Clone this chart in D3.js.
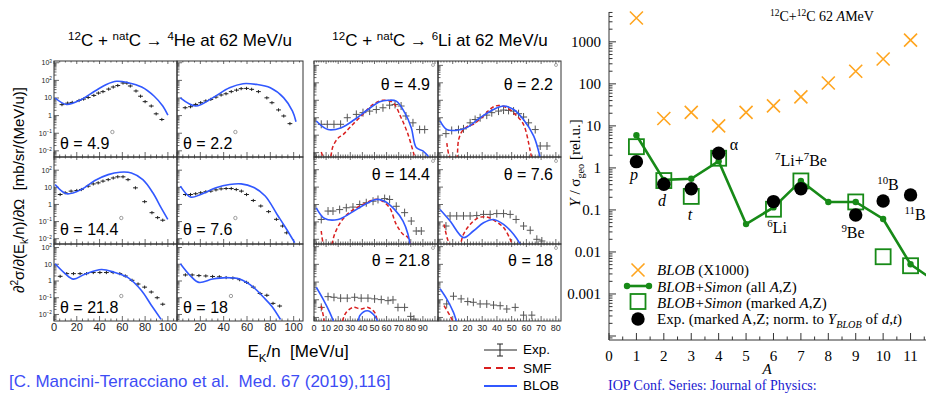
<!DOCTYPE html>
<html><head><meta charset="utf-8">
<script src="https://cdn.jsdelivr.net/npm/d3@7"></script>
<style>body{margin:0;background:#fff}svg{display:block}</style>
</head><body><svg id="c" width="926" height="394"></svg>
<script>
// ---------------- DATA: 4He panels  [E_k/n (MeV/u), d2sigma value] ----------------
const he49Blue = [[1,10],[11,4.3],[24,8.3],[36,25],[46,59],[55,89],[65,74],[77,42],[88,12.6],[95.5,3.5],[100,1.07]];
const he49Exp  = [[7,4.2],[12,5.1],[16,5.6],[22,7.2],[26,8.7],[30,10.7],[35,14],[39,19],[43,23],[48,32],[52,42],[56,51],[60.6,71],[64,70],[67,48],[72,25],[76,12.6],[80,6.2],[85.4,3.5],[89.7,1.26],[94.7,0.6]];
const he22Blue = [[2.9,10],[16,3.5],[30.5,10.2],[45,38],[56.6,65],[68,59],[80,38],[91.5,10.2],[99,1.8],[102,0.45]];
const he22Exp  = [[7,2.8],[11.6,3.2],[16,4.3],[20.3,5.4],[24.7,6.8],[29,8.3],[33.4,11.2],[37.8,14.8],[42,17.4],[46.5,23],[51,28],[55,34],[59.6,35],[64,31],[69.8,23],[77,10.2],[81.4,5.4],[87,2.1],[91.5,0.95],[96.8,0.35]];
const he144Blue = [[1,14.5],[11,4.2],[24,7.4],[35.9,25],[47.6,55],[57.8,76],[68,69],[78,28],[86.8,4.8],[94,0.65],[99.9,0.135]];
const he144Exp  = [[5.4,3.8],[9.8,4.8],[15,6],[20,6.5],[24,7.4],[30,11.7],[34.5,15.8],[38.8,18.2],[43,23],[47.6,28],[52,35],[56,41],[60.6,41],[65,28],[71.5,9.3],[79.6,1.45],[86,0.33],[91,0.17],[95.5,0.12]];
const he76Blue = [[2.9,11.7],[11.6,2.7],[20.3,3.8],[33.4,9.3],[45,14.5],[55,15.8],[65.4,10.2],[75.6,3.1],[85.8,0.26],[93,0.045],[100.9,0.0058]];
const he76Exp  = [[7.2,3.8],[11.6,3.8],[16,4.2],[20.3,4.8],[24.7,5.5],[29,6],[33.4,7.1],[37.8,8.1],[42.1,8.5],[46.5,8.5],[50.8,7.4],[55.2,6],[59.6,3.8],[65.4,1.7],[71.8,0.81],[78.5,0.38],[85.2,0.135],[90.5,0.055],[94,0.022]];
const he218Blue = [[1,10.7],[9.8,2.75],[17,1.3],[27,2.5],[41.7,4.9],[53.4,3.2],[65,1.6],[76.6,0.28],[85.3,0.037],[94,0.0051]];
const he218Exp  = [[5.4,1.9],[11.2,2.75],[17.1,2.75],[22.9,2.75],[28.6,2.75],[34.5,3.2],[40.3,3.2],[46,3.2],[51.9,3.2],[57.8,2.75],[62.6,2],[68.5,1.1],[73.8,0.66],[79.6,0.43],[85.4,0.22],[90.6,0.1],[95.5,0.041]];
const he18Blue = [[2.9,10.7],[11.6,2],[18.8,0.83],[30.5,1.3],[42,1.6],[53.7,1.3],[65.4,0.43],[74,0.11],[81.4,0.03],[88.7,0.005]];
const he18Exp  = [[7.2,2.3],[13,2.3],[18.8,2.1],[24.7,2],[30.5,1.86],[36.3,1.78],[42.1,1.6],[47.9,1.5],[53.7,1.2],[59.6,0.83],[65.4,0.43],[71.2,0.18],[77,0.14],[82.3,0.046],[88,0.032]];

// ---------------- DATA: 6Li panels  [E_k/n, value (arb. units)] ----------------
const li49Blue = [[1.9,65],[11.6,21],[22.6,27],[33.6,79],[44.6,295],[54.3,813],[61.2,1000],[68,891],[75,195],[80.4,27],[84.5,1.95],[90,1.26],[94.8,0.56]];
const li49Smf  = [[6,1.1],[9.5,0.32],[12.5,0.32],[15.7,2.3],[20,6.9],[24,10.7],[30.8,34],[39,126],[48.8,575],[57,1000],[65.3,724],[72,100],[77.7,11.2],[83,0.63]];
const li49Exp  = [[6,42],[11,42],[16.5,42],[22,42],[27.5,100],[35,155],[40.5,195],[46,240],[51.5,295],[57,372],[62.5,525],[67,575],[72,468],[76,126],[81.8,51],[87.3,21],[91.5,21]];
const li22Blue = [[1.4,65],[5.9,21],[12.7,19],[19.5,27],[28.6,100],[37.7,295],[44.5,468],[51.3,295],[58,79],[65,8.9],[69.4,0.5]];
const li22Smf  = [[6,3.5],[9,0.32],[12,0.32],[14,5.5],[16.3,16.6],[20,32],[24,42],[30.9,126],[36.5,372],[41,500],[46.7,372],[52.4,155],[58,42],[62.6,1.26],[64,0.32]];
const li22Exp  = [[5.4,12.3],[9.3,18.6],[13.9,21],[17.3,23],[21.8,51],[25.2,79],[28.6,100],[33.1,141],[36.5,195],[41.1,240],[44.5,275],[47.9,263],[51.3,240],[54.7,170],[58.1,110],[61.5,51],[66,21],[69.4,2.4],[74,2.4]];
const li144Blue = [[1.9,65],[8.8,15.8],[19.8,13.8],[30.8,34],[41.9,100],[51.5,195],[58.4,155],[66.7,51],[73.6,11.2],[77.7,1.95],[80,0.25]];
const li144Smf  = [[6,3],[9,0.32],[12,0.32],[14.5,0.5],[17,1.95],[22.6,11.2],[30.8,42],[40.5,100],[50.1,195],[55.6,170],[62.5,65],[68,7.2],[73.6,1.95],[77.7,1.26],[80,0.32]];
const li144Exp  = [[6,13.8],[11.6,42],[15.7,42],[21.2,51],[26.7,65],[32.2,71],[37.8,100],[43.2,126],[48.8,155],[52.9,195],[58.4,219],[62.5,195],[68,79],[74.9,34],[80.4,11.2],[84.5,3],[88.7,3]];
const li76Blue = [[1.4,51],[8.2,11.2],[17.3,1.26],[24,3],[30.9,8.9],[37.7,13.8],[44.5,7.2],[51.3,1.95],[56,0.5],[58,0.25]];
const li76Smf  = [[4.1,7.2],[6.5,1],[9,0.32],[13.8,0.32],[17.3,1.95],[21.8,7.2],[27.5,17.4],[33.1,19],[38.8,11.2],[44.5,4.7],[49,1],[51,0.32]];
const li76Exp  = [[5.4,5.8],[8.2,22],[12.7,22],[17.3,22],[21.8,22],[26.3,23],[30.9,27],[35.4,27],[39.9,30],[44.5,30],[49,27],[53,13.8],[58.1,5.8],[62.6,3.3],[67.1,1],[70.5,0.8]];
const li218Blue = [[1.9,51],[7.4,11.2],[13,1.95],[16,0.63],[18,0.25],[35,0.25],[37.8,1.26],[44,2.4],[50.1,1.26],[53,0.5],[55,0.25]];
const li218Smf  = [[6,4.6],[8,1],[10,0.25],[22,0.25],[24,0.8],[26.7,1.95],[32.2,3.7],[39,3],[44.6,3.7],[50.1,1.95],[52,0.8],[54,0.25]];
const li218Exp  = [[6,3.7],[11.6,15],[16.5,13.8],[22,12.3],[27.5,12.3],[33.6,13.8],[39,12.3],[44.6,12.3],[50.1,11.2],[55.6,10.2],[61.2,8.9],[65.3,9.8],[69.4,3.7],[74.9,3.7],[79.9,1.15],[82.6,0.8]];
const li18Blue = [[1.4,42],[5.9,11.2],[10.5,1.95],[13,0.5],[15,0.25]];
const li18Smf  = [[4.1,4.6],[8.2,1.26],[12,0.32],[14,0.25]];
const li18Exp  = [[5.9,5.8],[10.5,15.8],[15.7,11.2],[20.2,7.9],[24,7.2],[28.6,5.8],[33.1,5.8],[37.7,5],[42.2,4.6],[46.7,3],[52.4,3.7],[58.1,1.35],[63.7,1.35]];

// ---------------- DATA: right chart (Y / sigma_geo vs A) ----------------
const massA       = [1,2,3,4,5,6,7,8,9,10,11];
const blobX1000   = [3700,15,21,10,21,30,49,105,200,390,1100];
const simonAllA   = [1,2,3,4,5,6,7,8,9,10,11,12];
const simonAll    = [6,0.52,0.55,1.45,0.046,0.115,0.49,0.155,0.155,0.061,0.0051,0.0018];
const markedA     = [1,2,3,4,6,7,9,10,11];
const simonMarked = [3.2,0.5,0.21,1.7,0.104,0.49,0.155,0.0077,0.0047];
const expMarked   = [1.41,0.41,0.32,2.24,0.158,0.32,0.076,0.163,0.228];
const yTickVals   = [1000,100,10,1,0.1,0.01,0.001];
const yTickLabels = ["1000","100","10","1","0.1","0.01","0.001"];
const xTickVals   = [0,1,2,3,4,5,6,7,8,9,10,11];

const heTheta = ["4.9","2.2","14.4","7.6","21.8","18"];
const liTheta = ["4.9","2.2","14.4","7.6","21.8","18"];
const heXLabels = [[0,20,40,60,80,100],[20,40,60,80,100]];
const liXLabels = [[0,10,20,30,40,50,60,70,80,90],[10,20,30,40,50,60,70,80]];

// ---------------- DRAWING ----------------
const svg = d3.select("#c");
const SANS = "'Liberation Sans', Arial, Helvetica, sans-serif";
const SERIF = "'Liberation Serif', 'Times New Roman', serif";
const BLUE = "#3158ff", RED = "#d91f1f";
let clipN = 0;

function rich(t, parts, fs){
  let shift = 0;
  parts.forEach(p=>{
    const s = t.append("tspan").text(p.t);
    const target = p.sup ? -0.38*fs : (p.sub ? 0.28*fs : 0);
    if (target !== shift){ s.attr("dy", target - shift); shift = target; }
    if (p.sup || p.sub) s.attr("font-size", fs*0.68);
    if (p.i) s.attr("font-style","italic");
  });
  return t;
}

const rowsPx = [[61,157],[157,244],[244,321]];
const heColsPx = [[54,177],[177,303]];
const heYDom = [[-2.35,3.1],[-2.31,2.77],[-2.39,2.21]];
const liColsPx = [[314,438],[438,561]];
const liXDom = [[0,102.5],[0,83.5]];
const liYDom = [[-0.25,5.25],[-0.27,4.73],[-0.2,4.15]];

function panel(cx, ry, xDom, yExp, opts){
  const [x0,x1] = cx, [y0,y1] = ry;
  const xs = d3.scaleLinear().domain(xDom).range([x0,x1]);
  const ys = d3.scaleLog().domain([10**yExp[0], 10**yExp[1]]).range([y1,y0]);
  const id = "clp"+(clipN++);
  svg.append("clipPath").attr("id",id).append("rect")
    .attr("x",x0).attr("y",y0).attr("width",x1-x0).attr("height",y1-y0);
  const g = svg.append("g");
  const tk = g.append("g").attr("stroke","#444").attr("stroke-width",0.8);
  for (let e=Math.floor(yExp[0]); e<=Math.ceil(yExp[1]); e++){
    for (let m=1; m<10; m++){
      const v = m*10**e;
      if (v < 10**yExp[0] || v > 10**yExp[1]) continue;
      const L = m===1 ? 5 : 2.5;
      tk.append("line").attr("x1",x0).attr("x2",x0+L).attr("y1",ys(v)).attr("y2",ys(v));
    }
  }
  for (let v=xDom[0]; v<=xDom[1]; v+=opts.minor){
    const major = Math.abs(v/opts.major - Math.round(v/opts.major))<1e-6;
    const L = major ? 5 : 2.5;
    tk.append("line").attr("x1",xs(v)).attr("x2",xs(v)).attr("y1",y1).attr("y2",y1-L);
    tk.append("line").attr("x1",xs(v)).attr("x2",xs(v)).attr("y1",y0).attr("y2",y0+L*0.6);
  }
  g.append("rect").attr("x",x0).attr("y",y0).attr("width",x1-x0).attr("height",y1-y0)
    .attr("fill","none").attr("stroke","#333").attr("stroke-width",1);
  const cg = g.append("g").attr("clip-path",`url(#${id})`);
  const line = d3.line().x(d=>xs(d[0])).y(d=>ys(d[1])).curve(d3.curveCatmullRom.alpha(0.5));
  const eg = cg.append("g").attr("stroke", opts.expColor).attr("stroke-width",1);
  opts.exp.forEach(d=>{
    const X = xs(d[0]), Y = ys(d[1]);
    eg.append("line").attr("x1",X-opts.hw).attr("x2",X+opts.hw).attr("y1",Y).attr("y2",Y);
    eg.append("line").attr("x1",X).attr("x2",X).attr("y1",Y-opts.vh).attr("y2",Y+opts.vh);
  });
  if (opts.smf) cg.append("path").datum(opts.smf).attr("d",line).attr("fill","none")
      .attr("stroke",RED).attr("stroke-width",1.5).attr("stroke-dasharray","4,2.5");
  cg.append("path").datum(opts.blue).attr("d",line).attr("fill","none")
    .attr("stroke",BLUE).attr("stroke-width",1.6);
  return {xs, ys, g};
}

// ----- He block -----
const hePanels = [[he49Blue,he49Exp],[he22Blue,he22Exp],[he144Blue,he144Exp],[he76Blue,he76Exp],[he218Blue,he218Exp],[he18Blue,he18Exp]];
const heBase = [149,235,313];
hePanels.forEach((p,i)=>{
  const r = Math.floor(i/2), c = i%2;
  const P = panel(heColsPx[c], rowsPx[r], [0,108], heYDom[r], {blue:p[0], exp:p[1], major:20, minor:5, hw:2.4, vh:1.6, expColor:"#222"});
  const tx = svg.append("text").attr("x", heColsPx[c][0]+6).attr("y", heBase[r])
    .attr("font-family",SANS).attr("font-size",16).attr("fill","#000").text("θ = "+heTheta[i]);
  const w = tx.node().getComputedTextLength();
  svg.append("circle").attr("cx", heColsPx[c][0]+6+w+3).attr("cy", heBase[r]-17).attr("r",1.7)
    .attr("fill","none").attr("stroke","#777").attr("stroke-width",0.7);
  if (c===0){
    for (let e=Math.ceil(heYDom[r][0]); e<=Math.floor(heYDom[r][1]); e++){
      const t = svg.append("text").attr("x",52).attr("y",P.ys(10**e)+2.5).attr("text-anchor","end")
        .attr("font-family",SANS).attr("font-size",7).attr("fill","#222");
      if (e===0) t.text("1"); else if (e===1) t.text("10");
      else rich(t,[{t:"10"},{t:String(e).replace("-","−"),sup:true}],7);
    }
  }
  if (r===2){
    heXLabels[c].forEach(v=>{
      svg.append("text").attr("x",P.xs(v)).attr("y",331).attr("text-anchor","middle")
        .attr("font-family",SANS).attr("font-size",11).attr("fill","#222").text(v);
    });
  }
});

// ----- Li block -----
const liPanels = [[li49Blue,li49Smf,li49Exp],[li22Blue,li22Smf,li22Exp],[li144Blue,li144Smf,li144Exp],[li76Blue,li76Smf,li76Exp],[li218Blue,li218Smf,li218Exp],[li18Blue,li18Smf,li18Exp]];
const liBase = [90,180,266];
liPanels.forEach((p,i)=>{
  const r = Math.floor(i/2), c = i%2;
  const P = panel(liColsPx[c], rowsPx[r], liXDom[c], liYDom[r], {blue:p[0], smf:p[1], exp:p[2], major:10, minor:2, hw:3.5, vh:4, expColor:"#555"});
  svg.append("text").attr("x", liColsPx[c][1]-8).attr("y", liBase[r]).attr("text-anchor","end")
    .attr("font-family",SANS).attr("font-size",16).attr("fill","#000").text("θ = "+liTheta[i]);
  svg.append("circle").attr("cx", liColsPx[c][1]-5).attr("cy", rowsPx[r][0]+4).attr("r",1.5)
    .attr("fill","none").attr("stroke","#888").attr("stroke-width",0.7);
  if (r===2){
    liXLabels[c].forEach(v=>{
      svg.append("text").attr("x",P.xs(v)).attr("y",331).attr("text-anchor","middle")
        .attr("font-family",SANS).attr("font-size",9).attr("fill","#222").text(v);
    });
  }
});

// titles
rich(svg.append("text").attr("x",180).attr("y",46).attr("text-anchor","middle")
  .attr("font-family",SANS).attr("font-size",17),
  [{t:"12",sup:true},{t:"C + "},{t:"nat",sup:true},{t:"C → "},{t:"4",sup:true},{t:"He at 62 MeV/u"}],17);
rich(svg.append("text").attr("x",440).attr("y",46).attr("text-anchor","middle")
  .attr("font-family",SANS).attr("font-size",17),
  [{t:"12",sup:true},{t:"C + "},{t:"nat",sup:true},{t:"C → "},{t:"6",sup:true},{t:"Li at 62 MeV/u"}],17);

// y label left
rich(svg.append("text").attr("transform","translate(24,190) rotate(-90)").attr("text-anchor","middle")
  .attr("font-family",SANS).attr("font-size",15),
  [{t:"∂"},{t:"2",sup:true},{t:"σ/∂(E"},{t:"k",sub:true},{t:"/n)/∂Ω\u00a0 [mb/sr/(MeV/u)]"}],15);
// x label
rich(svg.append("text").attr("x",298).attr("y",357).attr("text-anchor","middle")
  .attr("font-family",SANS).attr("font-size",17),
  [{t:"E"},{t:"K",sub:true},{t:"/n\u00a0 [MeV/u]"}],17);
// citation
svg.append("text").attr("x",9).attr("y",387).attr("font-family",SANS).attr("font-size",17)
  .attr("fill","#3d4cf5").text("[C. Mancini-Terracciano et al.\u00a0 Med. 67 (2019),116]");

// legend middle
const lg = svg.append("g");
lg.append("line").attr("x1",484).attr("x2",517).attr("y1",350).attr("y2",350).attr("stroke","#222").attr("stroke-width",1);
lg.append("line").attr("x1",500).attr("x2",500).attr("y1",344).attr("y2",356).attr("stroke","#222");
lg.append("line").attr("x1",497).attr("x2",503).attr("y1",344).attr("y2",344).attr("stroke","#222");
lg.append("line").attr("x1",497).attr("x2",503).attr("y1",356).attr("y2",356).attr("stroke","#222");
lg.append("line").attr("x1",484).attr("x2",517).attr("y1",368).attr("y2",368).attr("stroke",RED).attr("stroke-width",2).attr("stroke-dasharray","7,5");
lg.append("line").attr("x1",484).attr("x2",517).attr("y1",386).attr("y2",386).attr("stroke",BLUE).attr("stroke-width",2);
[["Exp.",354],["SMF",373],["BLOB",390]].forEach(d=>{
  lg.append("text").attr("x",523).attr("y",d[1]).attr("font-family",SANS).attr("font-size",13.5).text(d[0]);
});

// ---------------- RIGHT CHART ----------------
const xR = d3.scaleLinear().domain([0,11.6]).range([609,927]);
const yR = d3.scaleLog().domain([10**-4.095, 10**3.71]).range([340,12]);
const R = svg.append("g");
const ax = R.append("g").attr("stroke","#333").attr("stroke-width",1);
ax.append("line").attr("x1",609).attr("x2",609).attr("y1",yR.range()[1]).attr("y2",340);
ax.append("line").attr("x1",609).attr("x2",926).attr("y1",340).attr("y2",340);
for (let e=-5; e<=4; e++){
  for (let m=1; m<10; m++){
    const v = m*10**e;
    if (v < yR.domain()[0] || v > yR.domain()[1]) continue;
    const L = m===1 ? 7 : 3.5;
    ax.append("line").attr("x1",609).attr("x2",609+L).attr("y1",yR(v)).attr("y2",yR(v));
  }
}
for (let v=0; v<=11.5; v+=0.5){
  const L = Number.isInteger(v) ? 7 : 3.5;
  ax.append("line").attr("x1",xR(v)).attr("x2",xR(v)).attr("y1",340).attr("y2",340-L);
}
yTickVals.forEach((v,i)=>{
  R.append("text").attr("x",601).attr("y",yR(v)+5).attr("text-anchor","end")
    .attr("font-family",SERIF).attr("font-size",15).text(yTickLabels[i]);
});
xTickVals.forEach(v=>{
  R.append("text").attr("x",xR(v)).attr("y",361).attr("text-anchor","middle")
    .attr("font-family",SERIF).attr("font-size",15).text(v);
});
R.append("text").attr("x",767).attr("y",374).attr("text-anchor","middle")
  .attr("font-family",SERIF).attr("font-size",15).attr("font-style","italic").text("A");
rich(R.append("text").attr("transform","translate(580,163) rotate(-90)").attr("text-anchor","middle")
  .attr("font-family",SERIF).attr("font-size",15),
  [{t:"Y",i:true},{t:" / σ"},{t:"geo",sub:true},{t:" [rel.u.]"}],15);
rich(R.append("text").attr("x",770).attr("y",21)
  .attr("font-family",SERIF).attr("font-size",14),
  [{t:"12",sup:true},{t:"C+"},{t:"12",sup:true},{t:"C 62 "},{t:"A",i:true},{t:"MeV"}],14);

const ORANGE = "#ffa51f", GREEN = "#178a17";
const pc = R.append("g");
function xMark(g,x,y,s){
  g.append("path").attr("d",`M${x-s},${y-s}L${x+s},${y+s}M${x-s},${y+s}L${x+s},${y-s}`)
    .attr("stroke",ORANGE).attr("stroke-width",1.6).attr("fill","none");
}
massA.forEach((a,i)=> xMark(pc, xR(a), yR(blobX1000[i]), 6.5));
pc.append("path").datum(simonAllA.map((a,i)=>[a,simonAll[i]]))
  .attr("d", d3.line().x(d=>xR(d[0])).y(d=>yR(d[1])))
  .attr("fill","none").attr("stroke",GREEN).attr("stroke-width",2.6);
simonAllA.forEach((a,i)=> pc.append("circle").attr("cx",xR(a)).attr("cy",yR(simonAll[i])).attr("r",3.2).attr("fill",GREEN));
markedA.forEach((a,i)=> pc.append("rect").attr("x",xR(a)-7.5).attr("y",yR(simonMarked[i])-7.5)
  .attr("width",15).attr("height",15).attr("fill","none").attr("stroke",GREEN).attr("stroke-width",1.8));
markedA.forEach((a,i)=> pc.append("circle").attr("cx",xR(a)).attr("cy",yR(expMarked[i])).attr("r",6.7).attr("fill","#000"));

const lab = (x,y,parts)=> rich(R.append("text").attr("x",x).attr("y",y).attr("text-anchor","middle")
  .attr("font-family",SERIF).attr("font-size",16), parts, 16);
lab(634,180,[{t:"p",i:true}]);
lab(662,206,[{t:"d",i:true}]);
lab(690,220,[{t:"t",i:true}]);
lab(734,150,[{t:"α"}]);
lab(801,166,[{t:"7",sup:true},{t:"Li+"},{t:"7",sup:true},{t:"Be"}]);
lab(777,233,[{t:"6",sup:true},{t:"Li"}]);
lab(853,238,[{t:"9",sup:true},{t:"Be"}]);
lab(888,190,[{t:"10",sup:true},{t:"B"}]);
lab(915,220,[{t:"11",sup:true},{t:"B"}]);

const L2 = R.append("g");
xMark(L2, 638, 270, 6.5);
L2.append("line").attr("x1",627).attr("x2",649).attr("y1",286).attr("y2",286).attr("stroke",GREEN).attr("stroke-width",2.6);
L2.append("circle").attr("cx",627).attr("cy",286).attr("r",3.2).attr("fill",GREEN);
L2.append("circle").attr("cx",649).attr("cy",286).attr("r",3.2).attr("fill",GREEN);
L2.append("rect").attr("x",630.5).attr("y",294).attr("width",15).attr("height",15).attr("fill","none").attr("stroke",GREEN).attr("stroke-width",1.8);
L2.append("circle").attr("cx",638).attr("cy",319).attr("r",6.7).attr("fill","#000");
const legT = [
  [275,[{t:"BLOB",i:true},{t:" (X1000)"}]],
  [292,[{t:"BLOB+Simon",i:true},{t:" (all "},{t:"A",i:true},{t:",Z)"}]],
  [308,[{t:"BLOB+Simon",i:true},{t:" (marked "},{t:"A",i:true},{t:",Z)"}]],
  [324,[{t:"Exp. (marked A,Z; norm. to "},{t:"Y",i:true},{t:"BLOB",sub:true,i:true},{t:" of "},{t:"d",i:true},{t:","},{t:"t",i:true},{t:")"}]]
];
legT.forEach(d=> rich(L2.append("text").attr("x",657).attr("y",d[0]).attr("font-family",SERIF).attr("font-size",15), d[1], 15));

svg.append("text").attr("x",608).attr("y",390).attr("font-family",SERIF).attr("font-size",14)
  .attr("fill","#1a1ad0").text("IOP Conf. Series: Journal of Physics:");
</script></body></html>
